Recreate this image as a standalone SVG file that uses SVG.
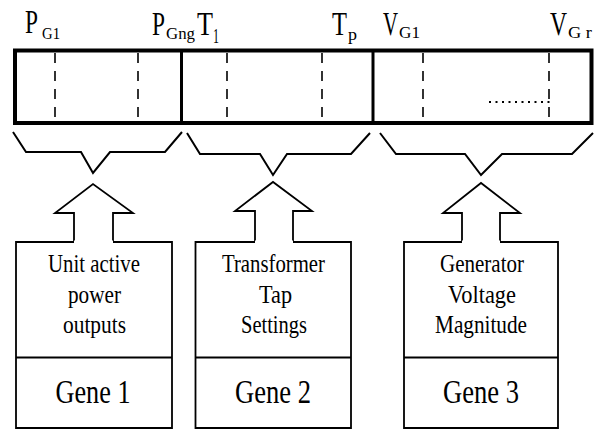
<svg xmlns="http://www.w3.org/2000/svg" width="595" height="430" viewBox="0 0 595 430">
<style>
text{font-family:"Liberation Serif","Times New Roman",serif;fill:#000}
.lab{font-size:33px}
.sub{font-size:16px}
.bt{font-size:25px;text-anchor:middle}
.gt{font-size:34px;text-anchor:middle}
.ln{fill:none;stroke:#000;stroke-width:2;stroke-linejoin:miter}
.box{fill:none;stroke:#000;stroke-width:1.8}
.dash{stroke:#000;stroke-width:1.6;stroke-dasharray:10 8}
</style>
<rect width="595" height="430" fill="#fff"/>
<g id="chromosome">
<rect x="15" y="50.5" width="576.5" height="72.5" fill="none" stroke="#000" stroke-width="4"/>
<line x1="181.5" y1="50" x2="181.5" y2="123" stroke="#000" stroke-width="3"/>
<line x1="373" y1="50" x2="373" y2="123" stroke="#000" stroke-width="3"/>
<line class="dash" x1="55" y1="53" x2="55" y2="121"/>
<line class="dash" x1="138" y1="53" x2="138" y2="121"/>
<line class="dash" x1="227" y1="53" x2="227" y2="121"/>
<line class="dash" x1="322" y1="53" x2="322" y2="121"/>
<line class="dash" x1="423" y1="53" x2="423" y2="121"/>
<line class="dash" x1="549" y1="53" x2="549" y2="121"/>
<line x1="489" y1="102" x2="553" y2="102" stroke="#000" stroke-width="2" stroke-dasharray="2 4.5"/>
</g>
<g id="labels">
<text class="lab" x="25" y="33"><tspan textLength="13" lengthAdjust="spacingAndGlyphs">P</tspan><tspan class="sub" x="42" y="39" textLength="18" lengthAdjust="spacingAndGlyphs">G1</tspan></text>
<text class="lab" x="152" y="35"><tspan textLength="13" lengthAdjust="spacingAndGlyphs">P</tspan><tspan class="sub" x="166" y="39" textLength="29" lengthAdjust="spacingAndGlyphs">Gng</tspan></text>
<text class="lab" x="197" y="35"><tspan textLength="16" lengthAdjust="spacingAndGlyphs">T</tspan><tspan x="213" y="43" font-size="20" textLength="6" lengthAdjust="spacingAndGlyphs">1</tspan></text>
<text class="lab" x="332" y="35"><tspan textLength="15" lengthAdjust="spacingAndGlyphs">T</tspan><tspan class="sub" x="348" y="39.5" textLength="9" lengthAdjust="spacingAndGlyphs">p</tspan></text>
<text class="lab" x="383" y="35"><tspan textLength="15" lengthAdjust="spacingAndGlyphs">V</tspan><tspan class="sub" x="399" y="38" textLength="21" lengthAdjust="spacingAndGlyphs">G1</tspan></text>
<text class="lab" x="550" y="35"><tspan textLength="17" lengthAdjust="spacingAndGlyphs">V</tspan><tspan class="sub" x="568" y="38" textLength="24" lengthAdjust="spacingAndGlyphs">G r</tspan></text>
</g>
<g id="connectors">
<polyline class="ln" points="13,132 26,152 81,152 93,173 110,152 165,152 182,132"/>
<polyline class="ln" points="187,133 200,154 260,154 273,175 287,154 351,154 370,133"/>
<polyline class="ln" points="380,133 396,154 465,154 481,175 502,154 572,154 593,133"/>
</g>
<g id="gene1">
<path class="box" d="M74,242 V213 H55 L93,184 L133,213 H113 V242 H172 V428 H16 V242 Z M16,357.5 H172"/>
<path d="M74,242 H113" stroke="#fff" stroke-width="3"/>
<text class="bt" x="94" y="272" textLength="92" lengthAdjust="spacingAndGlyphs">Unit active</text>
<text class="bt" x="94.5" y="302.5" textLength="53" lengthAdjust="spacingAndGlyphs">power</text>
<text class="bt" x="94.5" y="333" textLength="63" lengthAdjust="spacingAndGlyphs">outputs</text>
<text class="gt" x="93" y="403" textLength="75" lengthAdjust="spacingAndGlyphs">Gene 1</text>
</g>
<g id="gene2">
<path class="box" d="M255,242 V211 H235 L273,182 L312,211 H293 V242 H351 V428 H195.5 V242 Z M195.5,357.5 H351"/>
<path d="M255,242 H293" stroke="#fff" stroke-width="3"/>
<text class="bt" x="273.5" y="272" textLength="103" lengthAdjust="spacingAndGlyphs">Transformer</text>
<text class="bt" x="275.5" y="302.5" textLength="33" lengthAdjust="spacingAndGlyphs">Tap</text>
<text class="bt" x="274" y="333" textLength="66" lengthAdjust="spacingAndGlyphs">Settings</text>
<text class="gt" x="273" y="403" textLength="76" lengthAdjust="spacingAndGlyphs">Gene 2</text>
</g>
<g id="gene3">
<path class="box" d="M462,242 V213 H443 L481,183 L520,213 H500 V242 H558 V428 H404 V242 Z M404,357.5 H558"/>
<path d="M462,242 H500" stroke="#fff" stroke-width="3"/>
<text class="bt" x="482" y="272" textLength="84" lengthAdjust="spacingAndGlyphs">Generator</text>
<text class="bt" x="482" y="302.5" textLength="68" lengthAdjust="spacingAndGlyphs">Voltage</text>
<text class="bt" x="481" y="333" textLength="92" lengthAdjust="spacingAndGlyphs">Magnitude</text>
<text class="gt" x="481" y="403" textLength="76" lengthAdjust="spacingAndGlyphs">Gene 3</text>
</g>
</svg>
